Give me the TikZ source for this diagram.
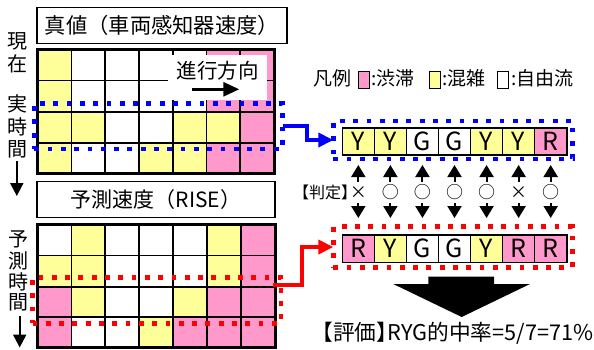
\documentclass[tikz,border=0pt]{standalone}
\usepackage{fontspec}
\setmainfont{Noto Sans CJK JP}
\usetikzlibrary{arrows.meta}
\definecolor{cY}{RGB}{255,255,153}
\definecolor{cP}{RGB}{255,153,204}
\definecolor{cW}{RGB}{255,255,255}
\tikzset{
  cell/.style={draw=black, line width=1.8pt, inner sep=0pt, outer sep=0pt},
  scell/.style={draw=black, line width=1.6pt, inner sep=0pt, outer sep=0pt,
    minimum width=32.06pt, minimum height=27.3pt, font=\fontsize{25pt}{25pt}\selectfont},
  frame/.style={draw=black, line width=3pt},
  tbox/.style={draw=black, line width=1.6pt, inner sep=0pt, outer sep=0pt},
  dotblue/.style={draw=blue, line width=4.8pt, dash pattern=on 4.8pt off 8.5pt, inner sep=0pt, outer sep=0pt},
  dotred/.style={draw=red, line width=4.8pt, dash pattern=on 4.8pt off 8.5pt, inner sep=0pt, outer sep=0pt},
  vchar/.style={inner sep=0pt, font=\fontsize{20pt}{20pt}\selectfont},
  timearrow/.style={line width=2pt, -{Triangle[length=13pt,width=13pt]}},
  dblarr/.style={line width=2pt, -{Triangle[length=12pt,width=14pt]}},
  link/.style={line width=4pt, -{Triangle[length=15pt,width=14pt]}},
  legsq/.style={draw=black, line width=1.4pt, minimum width=11pt, minimum height=16.6pt, inner sep=0pt},
  legtxt/.style={inner sep=0pt, font=\fontsize{19pt}{19pt}\selectfont},
}
\begin{document}
\begin{tikzpicture}[x=1pt,y=-1pt]
\useasboundingbox (0,0) rectangle (594,349);

% ---- title boxes
\node[tbox, minimum width=250pt, minimum height=36pt, font=\fontsize{21.3pt}{21.3pt}\selectfont] (title1) at (162,25.3) {真値（車両感知器速度）};
\node[tbox, minimum width=238pt, minimum height=36pt, font=\fontsize{21pt}{21pt}\selectfont] (title2) at (156,199.6) {予測速度（RISE）};

% ---- top grid (true values)
\foreach \row [count=\r] in {{Y,W,W,W,W,P,P},{Y,W,W,W,W,P,P},{Y,Y,W,W,Y,Y,P},{Y,W,W,Y,Y,P,P}}{
  \pgfmathtruncatemacro\ri{\r-1}
  \pgfmathsetmacro\ya{{49,80.5,112,143,173}[\ri]}
  \pgfmathsetmacro\yb{{49,80.5,112,143,173}[\r]}
  \pgfmathsetmacro\hh{\yb-\ya}
  \pgfmathsetmacro\yc{(\ya+\yb)/2}
  \foreach \cl [count=\c] in \row {
    \pgfmathsetmacro\xc{37.7+33.76*(\c-0.5)}
    \node[cell, fill=c\cl, minimum width=33.76pt, minimum height=\hh pt] (T\r-\c) at (\xc,\yc) {};
  }
}
\draw[frame] (37.7,49) rectangle (274,173);

% direction label
\node[fill=white, inner sep=0pt, minimum width=98.4pt, minimum height=45pt] (dirbox) at (217.5,77.5) {};
\node[inner sep=0pt, font=\fontsize{20.5pt}{20.5pt}\selectfont] (dirtxt) at (217.5,71) {進行方向};
\coordinate (dirA) at (191.7,89.3);
\coordinate (dirB) at (239.3,89.3);
\draw[line width=2.7pt, -{Triangle[length=16pt,width=14pt]}] (dirA) -- (dirB);

% ---- bottom grid (prediction)
\foreach \row [count=\r] in {{W,Y,W,W,W,Y,P},{Y,Y,W,W,W,Y,P},{P,Y,W,W,Y,P,P},{P,W,W,Y,P,P,P}}{
  \pgfmathtruncatemacro\ri{\r-1}
  \pgfmathsetmacro\ya{{224.3,255.5,286.7,317.3,347.5}[\ri]}
  \pgfmathsetmacro\yb{{224.3,255.5,286.7,317.3,347.5}[\r]}
  \pgfmathsetmacro\hh{\yb-\ya}
  \pgfmathsetmacro\yc{(\ya+\yb)/2}
  \foreach \cl [count=\c] in \row {
    \pgfmathsetmacro\xc{37.5+33.93*(\c-0.5)}
    \node[cell, fill=c\cl, minimum width=33.93pt, minimum height=\hh pt] (B\r-\c) at (\xc,\yc) {};
  }
}
\draw[frame] (37.5,224.3) rectangle (275,347.5);

% ---- dotted selections
\node[dotblue, minimum width=248.4pt, minimum height=45.7pt] (bluebox) at (158.5,126.15) {};
\node[dotred, minimum width=248.5pt, minimum height=45.8pt] (redbox) at (156.75,300.4) {};

% ---- left labels
\node[vchar] (n1) at (17.5,41.5) {現};
\node[vchar] (n2) at (17.5,64) {在};
\node[vchar] (r1) at (17,104) {実};
\node[vchar] (r2) at (17,126.5) {時};
\node[vchar] (r3) at (17,149) {間};
\coordinate (tip1) at (16.8,196);
\draw[timearrow] (16.8,161) -- (tip1);
\node[vchar] (p1) at (18.3,239) {予};
\node[vchar] (p2) at (18.3,260.5) {測};
\node[vchar] (p3) at (18.3,281.5) {時};
\node[vchar] (p4) at (18.3,302.5) {間};
\coordinate (tip2) at (19.7,347.5);
\draw[timearrow] (19.7,315.5) -- (tip2);

% ---- legend
\node[legtxt] (lg0) at (332.5,78) {凡例};
\node[legsq, fill=cP] (lgP) at (363.8,80) {};
\node[legtxt, anchor=west] (lgPt) at (371.5,78) {:渋滞};
\node[legsq, fill=cY] (lgY) at (434.7,80) {};
\node[legtxt, anchor=west] (lgYt) at (442,78) {:混雑};
\node[legsq, fill=cW] (lgW) at (502.8,80) {};
\node[legtxt, anchor=west] (lgWt) at (511,78) {:自由流};

% ---- strips
\foreach \l/\f [count=\i] in {Y/Y,Y/Y,G/W,G/W,Y/Y,Y/Y,R/P}{
  \node[scell, fill=c\f] (A\i) at ({342.3+32.06*(\i-0.5)},141.35) {\l};
}
\foreach \l/\f [count=\i] in {R/P,Y/Y,G/W,G/W,Y/Y,R/P,R/P}{
  \node[scell, fill=c\f] (S\i) at ({342.3+32.06*(\i-0.5)},248.65) {\l};
}
\node[dotblue, minimum width=239.4pt, minimum height=38pt] (bluestrip) at (453,140) {};
\node[dotred, minimum width=239pt, minimum height=40.6pt] (redstrip) at (452.8,247) {};

% ---- judgement
\node[inner sep=0pt, font=\fontsize{16pt}{16pt}\selectfont] (judge) at (325,192.5) {【判定】};
\foreach \s [count=\i] in {×,○,○,○,○,×,○}{
  \node[inner sep=0pt, minimum height=21pt, font=\fontsize{17pt}{17pt}\selectfont] (J\i) at ({342.3+32.06*(\i-0.5)},192.5) {\s};
  \draw[dblarr, shorten >=10pt] (J\i.north) -- (A\i.south);
  \draw[dblarr, shorten >=17pt] (J\i.south) -- (S\i.north);
}

% ---- connectors
\draw[link, blue] (bluebox.east) -- (307,126.15) |- (bluestrip.west);
\coordinate (rstart) at (273,285);
\draw[link, red] (rstart) -- (302,285) |- (redstrip.west);

% ---- big arrow and evaluation
\fill[black] (428.3,276.7) -- (494,276.7) -- (494,284) -- (530,284) -- (461.7,317)
  -- (393.3,284) -- (428.3,284) -- cycle;
\node[anchor=east, inner sep=0pt, font=\fontsize{21.7pt}{21.7pt}\selectfont] (evaltxt) at (593.5,333) {【評価】\kern-0.5em RYG的中率=5/7=71\%};
\end{tikzpicture}
\end{document}
